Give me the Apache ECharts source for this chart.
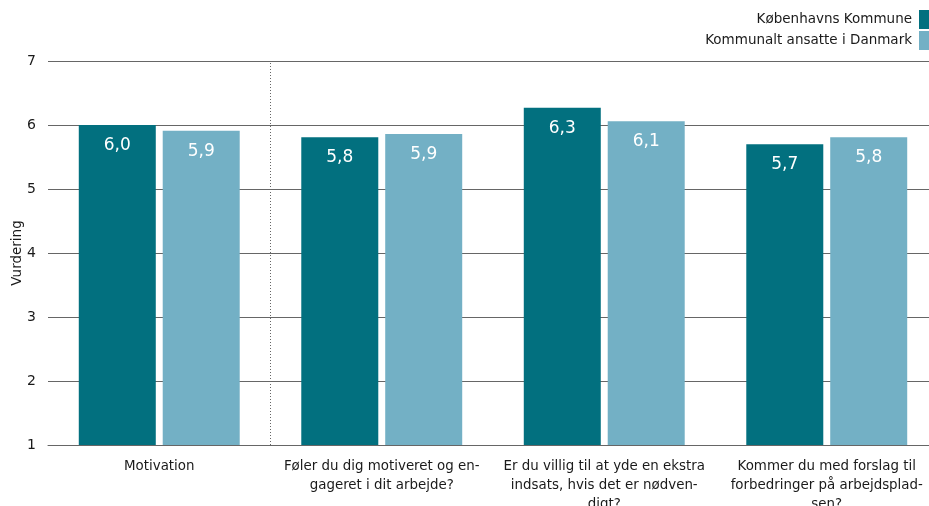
<!DOCTYPE html>
<html>
<head>
<meta charset="utf-8">
<script src="https://cdn.jsdelivr.net/npm/echarts@6/dist/echarts.min.js"></script>
<style>
  html, body { margin: 0; padding: 0; background: #fff; }
  #chart { width: 929px; height: 506px; }
</style>
</head>
<body>
<div id="chart"></div>
<script>
const categories = [
  'Motivation',
  'Føler du dig motiveret og en-\ngageret i dit arbejde?',
  'Er du villig til at yde en ekstra\nindsats, hvis det er nødven-\ndigt?',
  'Kommer du med forslag til\nforbedringer på arbejdsplad-\nsen?'
]
const kbhValues = [6.0, 5.81, 6.27, 5.70]
const danmarkValues = [5.91, 5.86, 6.06, 5.81]
const seriesNames = ['Københavns Kommune', 'Kommunalt ansatte i Danmark']
const yTicks = [1, 2, 3, 4, 5, 6, 7]
// skillelinje efter "Motivation" (grænse mellem kategori 1 og 2)
const dividerAt = [1]

const font = 'DejaVu Sans'
const darkColor = '#02707f'
const lightColor = '#73b0c5'

const fmt = (v) => v.toFixed(1).replace('.', ',')

const barLabel = {
  show: true,
  position: 'insideTop',
  distance: 12,
  color: '#fff',
  fontFamily: font,
  fontSize: 17,
  formatter: (p) => fmt(p.value)
}

const myChart = echarts.init(document.getElementById('chart'))
myChart.setOption({
  animation: false,
  textStyle: { fontFamily: font },
  grid: { left: 48, top: 61, width: 890, bottom: 61, containLabel: false, outerBoundsMode: 'none' },
  legend: {
    orient: 'vertical',
    right: 0,
    top: 10,
    padding: 0,
    align: 'right',
    itemWidth: 10,
    itemHeight: 19,
    itemGap: 2,
    icon: 'rect',
    textStyle: { fontFamily: font, fontSize: 13.5, color: '#1a1a1a', padding: [0, 2, 0, 0] },
    data: seriesNames
  },
  xAxis: [
    {
      type: 'category',
      data: categories,
      axisTick: { show: false },
      axisLine: { show: true, lineStyle: { color: '#666', width: 1 } },
      axisLabel: {
        interval: 0,
        margin: 12,
        fontFamily: font,
        fontSize: 13.4,
        lineHeight: 19,
        color: '#1a1a1a',
        align: 'center'
      },
      splitLine: { show: false }
    },
    {
      type: 'value',
      min: 0,
      max: categories.length,
      show: false
    }
  ],
  yAxis: {
    type: 'value',
    min: yTicks[0],
    max: yTicks[yTicks.length - 1],
    interval: 1,
    name: 'Vurdering',
    nameLocation: 'middle',
    nameGap: 24,
    nameMoveOverlap: false,
    nameTextStyle: { fontFamily: font, fontSize: 13.5, color: '#1a1a1a' },
    axisLine: { show: false },
    axisTick: { show: false },
    axisLabel: { margin: 12, fontFamily: font, fontSize: 14, color: '#1a1a1a' },
    splitLine: { lineStyle: { color: '#666', width: 1 } }
  },
  series: [
    {
      name: seriesNames[0],
      type: 'bar',
      data: kbhValues,
      barWidth: 77,
      barGap: '9%',
      itemStyle: { color: darkColor },
      label: barLabel
    },
    {
      name: seriesNames[1],
      type: 'bar',
      data: danmarkValues,
      barWidth: 77,
      itemStyle: { color: lightColor },
      label: barLabel
    },
    {
      type: 'scatter',
      xAxisIndex: 1,
      data: [],
      silent: true,
      markLine: {
        silent: true,
        symbol: 'none',
        label: { show: false },
        lineStyle: { color: '#666', type: [1, 2], width: 1 },
        data: dividerAt.map(v => ({ xAxis: v }))
      }
    }
  ]
})
</script>
</body>
</html>
